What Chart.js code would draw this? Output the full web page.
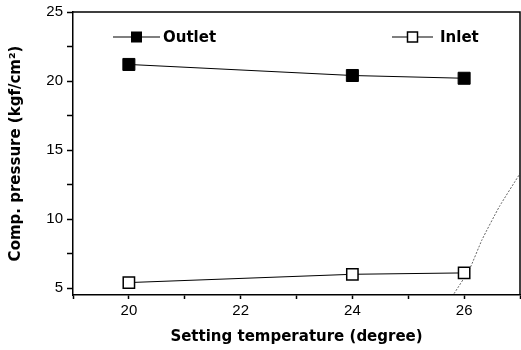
<!DOCTYPE html>
<html>
<head>
<meta charset="utf-8">
<script src="https://cdn.jsdelivr.net/npm/chart.js@4.4.0/dist/chart.umd.min.js"></script>
<style>
html,body{margin:0;padding:0;background:#fff;}
#wrap{width:521px;height:350px;position:relative;}
</style>
</head>
<body>
<div id="wrap"><canvas id="c" width="521" height="350"></canvas></div>
<script>
const temperatures = [20, 24, 26];
const outletPressure = [21.2, 20.4, 20.2];
const inletPressure = [5.4, 6.0, 6.1];
const traceX = [25.82, 26.1, 26.32, 26.63, 27.0];
const traceY = [4.6, 6.4, 8.5, 10.9, 13.3];
const xTickLabels = [20, 22, 24, 26];
const yTickLabels = [5, 10, 15, 20, 25];
const yMinorTicks = [7.5, 12.5, 17.5, 22.5];
const seriesNames = ['Outlet', 'Inlet'];

const FONT = '"Liberation Sans", Arial, sans-serif';
const BFONT = '"DejaVu Sans", sans-serif';

const frameAndLegend = {
  id: 'frameAndLegend',
  afterDraw(chart) {
    const ctx = chart.ctx;
    const a = chart.chartArea;
    ctx.save();
    ctx.strokeStyle = '#000';
    ctx.lineWidth = 1.5;
    ctx.beginPath();
    ctx.moveTo(a.left, a.top); ctx.lineTo(a.right, a.top); ctx.lineTo(a.right, a.bottom);
    ctx.stroke();
    const items = [
      {x: a.left + 40, filled: true, label: seriesNames[0], lw: 47, size: 11, gap: 3},
      {x: a.left + 319, filled: false, label: seriesNames[1], lw: 41, size: 10, gap: 7}
    ];
    const y = a.top + 25;
    ctx.font = 'bold 15px ' + BFONT;
    ctx.textBaseline = 'middle';
    items.forEach(it => {
      ctx.lineWidth = 1.2;
      ctx.strokeStyle = '#000';
      ctx.beginPath(); ctx.moveTo(it.x, y); ctx.lineTo(it.x + it.lw, y); ctx.stroke();
      const cx = it.x + it.lw / 2;
      const s = it.size;
      if (it.filled) { ctx.fillStyle = '#000'; ctx.fillRect(cx - s/2, y - s/2, s, s); }
      else { ctx.fillStyle = '#fff'; ctx.fillRect(cx - s/2, y - s/2, s, s); ctx.lineWidth = 1.5; ctx.strokeRect(cx - s/2, y - s/2, s, s); }
      ctx.fillStyle = '#000';
      ctx.fillText(it.label, it.x + it.lw + it.gap, y + 1);
    });
    ctx.restore();
  }
};

new Chart(document.getElementById('c'), {
  type: 'scatter',
  data: {
    datasets: [
      {
        label: seriesNames[0],
        data: temperatures.map((t, i) => ({x: t, y: outletPressure[i]})),
        showLine: true, borderColor: '#000', borderWidth: 1,
        pointStyle: 'rect', pointRadius: 8.5, pointBackgroundColor: '#000', pointBorderColor: '#000', pointBorderWidth: 1
      },
      {
        label: seriesNames[1],
        data: temperatures.map((t, i) => ({x: t, y: inletPressure[i]})),
        showLine: true, borderColor: '#000', borderWidth: 1,
        pointStyle: 'rect', pointRadius: 8, pointBackgroundColor: '#fff', pointBorderColor: '#000', pointBorderWidth: 1.5
      },
      {
        label: 'trace',
        data: traceX.map((x, i) => ({x: x, y: traceY[i]})),
        showLine: true, borderColor: '#666', borderWidth: 1, borderDash: [2, 1.5],
        pointRadius: 0, tension: 0.15, order: 5
      }
    ]
  },
  options: {
    responsive: false,
    animation: false,
    layout: {autoPadding: false, padding: {left: 0, right: 1, top: 12, bottom: 4}},
    plugins: {legend: {display: false}, tooltip: {enabled: false}},
    scales: {
      x: {
        type: 'linear', min: 19, max: 27,
        afterBuildTicks(s) { s.ticks = [19,20,21,22,23,24,25,26,27].map(v => ({value: v})); },
        ticks: {
          callback: v => xTickLabels.includes(v) ? String(v) : '',
          color: '#000', font: {family: FONT, size: 15}, padding: 3, maxRotation: 0, autoSkip: false
        },
        grid: {drawOnChartArea: false, tickLength: 4, tickColor: '#000', tickWidth: 1.5},
        border: {color: '#000', width: 1.5},
        title: {display: true, text: 'Setting temperature (degree)', color: '#000', font: {family: BFONT, size: 15, weight: 'bold'}, padding: {top: 7, bottom: 0}},
        afterFit(s) { s.height = 51; s.paddingLeft = 0; s.paddingRight = 0; }
      },
      y: {
        type: 'linear', min: 4.5, max: 25,
        afterBuildTicks(s) { s.ticks = yTickLabels.concat(yMinorTicks).sort((a,b)=>a-b).map(v => ({value: v})); },
        ticks: {
          callback: v => yTickLabels.includes(v) ? String(v) : '',
          color: '#000', font: {family: FONT, size: 15}, padding: 4, autoSkip: false
        },
        grid: {drawOnChartArea: false, tickLength: 6, tickColor: '#000', tickWidth: 1.5},
        border: {color: '#000', width: 1.5},
        title: {display: true, text: 'Comp. pressure (kgf/cm²)', color: '#000', font: {family: BFONT, size: 15, weight: 'bold'}, padding: {top: 7, bottom: 2}},
        afterFit(s) { s.width = 73; s.paddingTop = 0; s.paddingBottom = 0; }
      }
    }
  },
  plugins: [frameAndLegend]
});
</script>
</body>
</html>
